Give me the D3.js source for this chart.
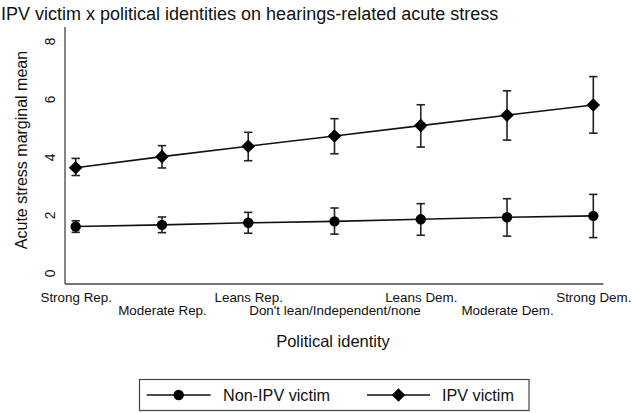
<!DOCTYPE html>
<html><head><meta charset="utf-8">
<script src="https://cdn.jsdelivr.net/npm/d3@7"></script>
<style>body{margin:0;background:#fff}svg{display:block}text{font-family:"Liberation Sans",Arial,Helvetica,sans-serif;fill:#111}</style>
</head><body>
<svg id="c" width="632" height="413"></svg>
<script>
const categories = ["Strong Rep.","Moderate Rep.","Leans Rep.","Don't lean/Independent/none","Leans Dem.","Moderate Dem.","Strong Dem."];
const nonIpvMean = [1.60,1.66,1.73,1.78,1.85,1.92,1.97];
const nonIpvLow  = [1.40,1.39,1.37,1.34,1.30,1.27,1.22];
const nonIpvHigh = [1.80,1.93,2.09,2.24,2.39,2.56,2.71];
const ipvMean = [3.63,4.01,4.37,4.72,5.08,5.44,5.79];
const ipvLow  = [3.36,3.62,3.87,4.11,4.34,4.58,4.82];
const ipvHigh = [3.95,4.39,4.85,5.32,5.80,6.28,6.77];
const yTicks = [0,2,4,6,8];
const seriesNames = ["Non-IPV victim","IPV victim"];

const svg = d3.select("#c");
const x = d3.scalePoint().domain(categories).range([75.7, 593.3]);
const y = d3.scaleLinear().domain([-0.38, 8.48]).range([284, 27]);

svg.append("text").attr("x",1).attr("y",20).style("font-size","18px").text("IPV victim x political identities on hearings-related acute stress");

// axes
const xAxis = d3.axisBottom(x).tickSize(0).tickPadding(0).tickFormat(()=>"");
const gx = svg.append("g").attr("transform","translate(0,284)").call(xAxis);
gx.select(".domain").attr("d","M65,0H603.3").attr("stroke","#444").attr("stroke-width",1.3);
gx.selectAll(".tick").append("text").attr("text-anchor","middle")
  .attr("y",(d,i)=> i%2===0 ? 17.7 : 31.3)
  .style("font-size","13.4px").attr("fill","#111").text(d=>d);

const yAxis = d3.axisLeft(y).tickValues(yTicks).tickSize(0).tickFormat(()=>"");
const gy = svg.append("g").attr("transform","translate(65,0)").call(yAxis);
gy.select(".domain").attr("d","M0,27V284").attr("stroke","#444").attr("stroke-width",1.3);
gy.selectAll(".tick").append("text").attr("text-anchor","middle")
  .attr("transform","translate(-10,0) rotate(-90)")
  .style("font-size","13.8px").attr("fill","#111").text(d=>d);

svg.append("text").attr("transform","translate(27,150) rotate(-90)").attr("text-anchor","middle")
  .style("font-size","16px").text("Acute stress marginal mean");
svg.append("text").attr("x",333).attr("y",347).attr("text-anchor","middle")
  .style("font-size","16.5px").text("Political identity");

function diamondPath(s){ return `M0,${-s}L${s},0L0,${s}L${-s},0Z`; }

function drawSeries(mean, low, high, shape){
  const g = svg.append("g");
  const line = d3.line().x((d,i)=>x(categories[i])).y(d=>y(d));
  g.append("path").datum(mean).attr("d",line).attr("fill","none").attr("stroke","#111").attr("stroke-width",1.6);
  categories.forEach((c,i)=>{
    const cx = x(c);
    g.append("line").attr("x1",cx).attr("x2",cx).attr("y1",y(low[i])).attr("y2",y(high[i])).attr("stroke","#222").attr("stroke-width",1.6);
    [low[i],high[i]].forEach(v=>g.append("line").attr("x1",cx-4.2).attr("x2",cx+4.2).attr("y1",y(v)).attr("y2",y(v)).attr("stroke","#222").attr("stroke-width",1.6));
    if(shape==="circle") g.append("circle").attr("cx",cx).attr("cy",y(mean[i])).attr("r",5.2).attr("fill","#000");
    else g.append("path").attr("transform",`translate(${cx},${y(mean[i])})`).attr("d",diamondPath(6.8)).attr("fill","#000");
  });
}
drawSeries(nonIpvMean, nonIpvLow, nonIpvHigh, "circle");
drawSeries(ipvMean, ipvLow, ipvHigh, "diamond");

// legend
const lg = svg.append("g");
lg.append("rect").attr("x",139.5).attr("y",379.5).attr("width",389.5).attr("height",31).attr("fill","#fff").attr("stroke","#444").attr("stroke-width",1.2);
const entries = [{x0:146.7,x1:210.7,tx:223,shape:"circle"},{x0:367,x1:430,tx:442,shape:"diamond"}];
entries.forEach((e,i)=>{
  const cy=395, cx=(e.x0+e.x1)/2;
  lg.append("line").attr("x1",e.x0).attr("x2",e.x1).attr("y1",cy).attr("y2",cy).attr("stroke","#111").attr("stroke-width",1.6);
  if(e.shape==="circle") lg.append("circle").attr("cx",cx).attr("cy",cy).attr("r",5.2).attr("fill","#000");
  else lg.append("path").attr("transform",`translate(${cx},${cy})`).attr("d",diamondPath(6.8)).attr("fill","#000");
  lg.append("text").attr("x",e.tx).attr("y",cy+5.8).style("font-size","16.2px").text(seriesNames[i]);
});
</script>
</body></html>
